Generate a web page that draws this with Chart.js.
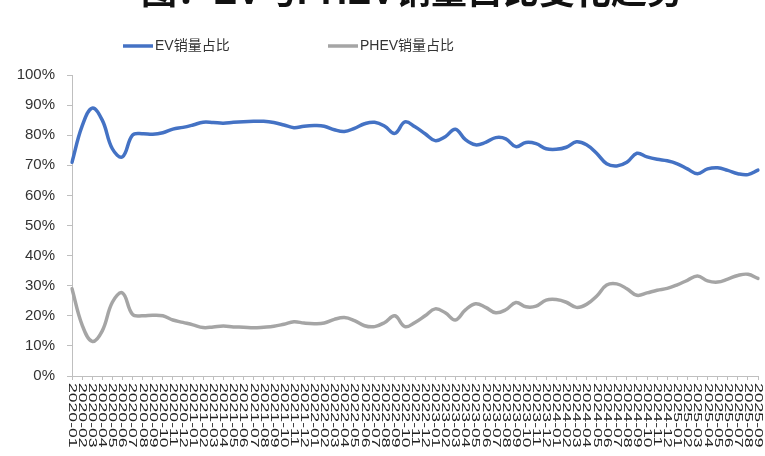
<!DOCTYPE html>
<html>
<head>
<meta charset="utf-8">
<script src="https://cdn.jsdelivr.net/npm/chart.js@4.4.1/dist/chart.umd.min.js"></script>
<style>
  html, body { margin: 0; padding: 0; background: #fff; }
  #wrap { width: 765px; height: 456px; position: relative; }
</style>
</head>
<body>
<div id="wrap"><canvas id="shareChart"></canvas></div>
<script>
// monthly categories
const months = [
  '2020-01','2020-02','2020-03','2020-04','2020-05','2020-06','2020-07','2020-08','2020-09','2020-10','2020-11','2020-12',
  '2021-01','2021-02','2021-03','2021-04','2021-05','2021-06','2021-07','2021-08','2021-09','2021-10','2021-11','2021-12',
  '2022-01','2022-02','2022-03','2022-04','2022-05','2022-06','2022-07','2022-08','2022-09','2022-10','2022-11','2022-12',
  '2023-01','2023-02','2023-03','2023-04','2023-05','2023-06','2023-07','2023-08','2023-09','2023-10','2023-11','2023-12',
  '2024-01','2024-02','2024-03','2024-04','2024-05','2024-06','2024-07','2024-08','2024-09','2024-10','2024-11','2024-12',
  '2025-01','2025-02','2025-03','2025-04','2025-05','2025-06','2025-07','2025-08','2025-09'
];

// share of EV / PHEV in monthly sales (%)
const evShare = [
  71, 83, 89, 85, 75.5, 72.8, 80, 80.5, 80.3, 80.8, 82, 82.6,
  83.4, 84.3, 84.2, 84, 84.3, 84.5, 84.6, 84.6, 84.2, 83.4, 82.5, 83,
  83.2, 83, 81.8, 81.2, 82.3, 83.8, 84.3, 83, 80.6, 84.4, 82.8, 80.5,
  78.2, 79.5, 82, 78.5, 76.8, 77.6, 79.2, 78.8, 76.2, 77.6, 77.2, 75.5,
  75.3, 76, 77.8, 76.8, 74, 70.5, 69.8, 71, 74, 72.8, 72, 71.5,
  70.5, 68.8, 67.2, 68.8, 69.2, 68.3, 67.2, 66.9, 68.4
];
const phevShare = [
  29, 17, 11.5, 15, 24.5, 27.6, 20.5, 20, 20.2, 20, 18.6, 17.8,
  17, 16.1, 16.3, 16.6, 16.3, 16.2, 16, 16.2, 16.5, 17.2, 18, 17.6,
  17.4, 17.6, 18.8, 19.4, 18.4, 16.7, 16.4, 17.8, 20, 16.4, 17.8, 20,
  22.3, 21, 18.6, 22, 24, 22.8, 21, 22, 24.4, 23, 23.2, 25.2,
  25.4, 24.5, 22.8, 23.8, 26.5, 30.2, 30.6, 29, 26.8, 27.6, 28.5, 29.1,
  30.3, 31.8, 33.2, 31.6, 31.2, 32.2, 33.4, 33.8, 32.4
];

const seriesNames = ['EV销量占比', 'PHEV销量占比'];
const seriesColors = ['#4472C4', '#A5A5A5'];
const titleText = '图：EV与PHEV销量占比变化趋势';

const FONT = '"Liberation Sans", Arial, "Noto Sans CJK SC", sans-serif';

// white background + cut-off heading at the very top
const backdrop = {
  id: 'backdrop',
  beforeDraw(chart) {
    const ctx = chart.ctx;
    ctx.save();
    ctx.fillStyle = '#fff';
    ctx.fillRect(0, 0, chart.width, chart.height);
    ctx.fillStyle = '#111';
    ctx.font = 'bold 36px ' + FONT;
    ctx.textAlign = 'center';
    ctx.textBaseline = 'alphabetic';
    ctx.fillText(titleText, 412, 4);
    ctx.restore();
  }
};

// legend: short line + label, placed above the plot
const lineLegend = {
  id: 'lineLegend',
  afterDraw(chart) {
    const ctx = chart.ctx;
    const starts = [123, 328];
    ctx.save();
    ctx.font = '14px ' + FONT;
    ctx.textBaseline = 'middle';
    chart.data.datasets.forEach((ds, i) => {
      const x = starts[i];
      ctx.strokeStyle = ds.borderColor;
      ctx.lineWidth = 3.5;
      ctx.beginPath();
      ctx.moveTo(x, 46);
      ctx.lineTo(x + 30, 46);
      ctx.stroke();
      ctx.fillStyle = '#333';
      ctx.fillText(ds.label, x + 32, 46);
    });
    ctx.restore();
  }
};

// category labels turned 90deg clockwise, reading downwards
const downLabels = {
  id: 'downLabels',
  afterDraw(chart) {
    const xs = chart.scales.x;
    const ctx = chart.ctx;
    ctx.save();
    ctx.font = '11px ' + FONT;
    ctx.fillStyle = '#222';
    ctx.textAlign = 'left';
    ctx.textBaseline = 'middle';
    xs.ticks.forEach((t, i) => {
      const x = xs.getPixelForTick(i);
      ctx.save();
      ctx.translate(x, xs.top + 7);
      ctx.rotate(Math.PI / 2);
      ctx.scale(1.6, 1);
      ctx.fillText(chart.data.labels[i], 0, 0);
      ctx.restore();
    });
    ctx.restore();
  }
};

new Chart(document.getElementById('shareChart'), {
  type: 'line',
  data: {
    labels: months,
    datasets: [
      { label: seriesNames[0], data: evShare, borderColor: seriesColors[0] },
      { label: seriesNames[1], data: phevShare, borderColor: seriesColors[1] }
    ].map(ds => Object.assign(ds, {
      borderWidth: 3.5,
      tension: 0.4,
      pointRadius: 0,
      fill: false,
      borderCapStyle: 'round'
    }))
  },
  options: {
    responsive: true,
    maintainAspectRatio: false,
    animation: false,
    layout: { padding: { top: 75, right: 7, left: 0, bottom: 0 } },
    plugins: {
      legend: { display: false },
      tooltip: { enabled: false }
    },
    scales: {
      x: {
        offset: false,
        afterFit(scale) { scale.height = 80; },
        grid: { display: true, drawOnChartArea: false, drawTicks: true, tickLength: 4, color: '#BFBFBF' },
        border: { display: true, color: '#BFBFBF', width: 1 },
        ticks: { autoSkip: false, maxRotation: 0, color: 'rgba(0,0,0,0)', font: { size: 1 } }
      },
      y: {
        min: 0,
        max: 100,
        afterFit(scale) { scale.width = 72; },
        grid: { display: true, drawOnChartArea: false, drawTicks: true, tickLength: 5, color: '#BFBFBF' },
        border: { display: true, color: '#BFBFBF', width: 1 },
        ticks: {
          stepSize: 10,
          padding: 12,
          color: '#333',
          font: { family: FONT, size: 15 },
          callback: v => v + '%'
        }
      }
    }
  },
  plugins: [backdrop, lineLegend, downLabels]
});
</script>
</body>
</html>
